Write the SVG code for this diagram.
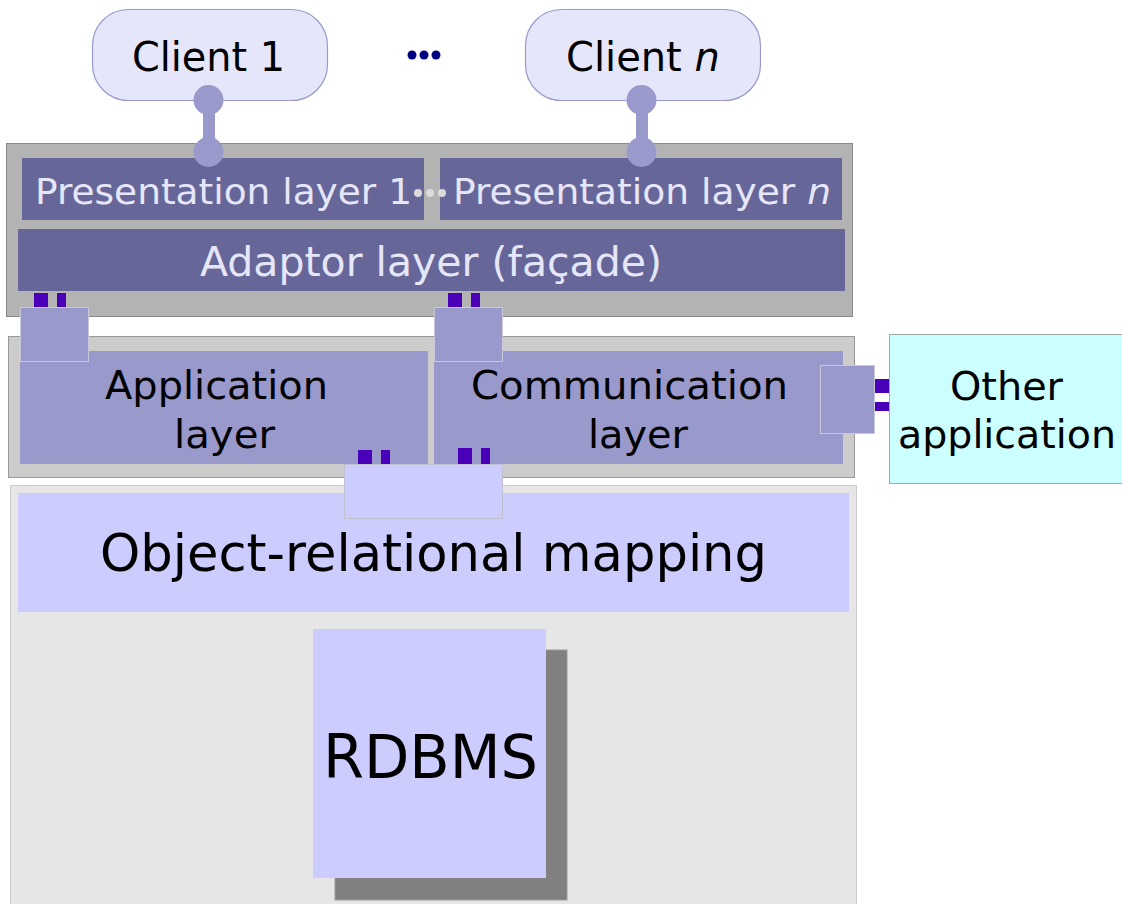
<svg xmlns="http://www.w3.org/2000/svg" width="1122" height="904" viewBox="0 0 1122 904">
  <style>
    text { font-family: "DejaVu Sans", Verdana, sans-serif; }
    .client { fill: #e6e6fa; stroke: #9999cc; stroke-width: 1.2; }
    .light { fill: #e6e6fa; }
    .dark { fill: #000000; }
    .pres { fill: #666699; }
    .mid { fill: #9999cc; }
    .port { fill: #4a00b8; }
    .pbox { fill: #9999cc; stroke: #c8c8d8; stroke-width: 1; }
    .pbox2 { fill: #ccccff; stroke: #c0c0d0; stroke-width: 1; }
    .link { fill: #9999cc; }
  </style>

  <!-- tier containers -->
  <rect id="web-tier" x="6.5" y="143.5" width="846" height="173" fill="#b3b3b3" stroke="#8a8a8a" stroke-width="1"/>
  <rect id="app-tier" x="8.5" y="336.5" width="846" height="141" fill="#cccccc" stroke="#999999" stroke-width="1"/>
  <rect id="data-tier" x="10.5" y="485.5" width="846" height="430" fill="#e6e6e6" stroke="#cccccc" stroke-width="1"/>

  <!-- clients -->
  <g id="client-1">
    <rect class="client" x="92.5" y="9.5" width="235" height="91" rx="36" ry="36"/>
    <text x="132" y="71" font-size="40" class="dark" textLength="153" lengthAdjust="spacingAndGlyphs">Client 1</text>
  </g>
  <g id="client-n">
    <rect class="client" x="525.5" y="9.5" width="235" height="91" rx="36" ry="36"/>
    <text x="566" y="71" font-size="40" class="dark">Client <tspan font-style="italic">n</tspan></text>
  </g>
  <g id="client-ellipsis" fill="#000080">
    <circle cx="412" cy="55" r="4.5"/>
    <circle cx="424" cy="55" r="4.5"/>
    <circle cx="436" cy="55" r="4.5"/>
  </g>

  <!-- presentation layers -->
  <g id="presentation-1">
    <rect class="pres" x="22" y="158" width="402" height="62"/>
    <text x="35" y="204" font-size="36" class="light" textLength="377" lengthAdjust="spacingAndGlyphs">Presentation layer 1</text>
  </g>
  <g id="presentation-n">
    <rect class="pres" x="440" y="158" width="402" height="62"/>
    <text x="453" y="204" font-size="36" class="light" textLength="378" lengthAdjust="spacingAndGlyphs">Presentation layer <tspan font-style="italic">n</tspan></text>
  </g>
  <g id="presentation-ellipsis" fill="#dcdcdc">
    <circle cx="418" cy="193" r="4"/>
    <circle cx="430" cy="193" r="4"/>
    <circle cx="442" cy="193" r="4"/>
  </g>

  <!-- adaptor layer -->
  <g id="adaptor">
    <rect class="pres" x="18" y="229" width="827" height="62"/>
    <text x="200" y="276" font-size="40" class="light" textLength="462" lengthAdjust="spacingAndGlyphs">Adaptor layer (façade)</text>
  </g>

  <!-- application tier -->
  <g id="application">
    <rect class="mid" x="20" y="351" width="408" height="113"/>
    <text x="105" y="399" font-size="39" class="dark" textLength="223" lengthAdjust="spacingAndGlyphs">Application</text>
    <text x="174" y="448" font-size="39" class="dark" textLength="101" lengthAdjust="spacingAndGlyphs">layer</text>
  </g>
  <g id="communication">
    <rect class="mid" x="434" y="351" width="409" height="113"/>
    <text x="471" y="399" font-size="39" class="dark" textLength="317" lengthAdjust="spacingAndGlyphs">Communication</text>
    <text x="588" y="448" font-size="39" class="dark" textLength="100" lengthAdjust="spacingAndGlyphs">layer</text>
  </g>
  <g id="other-application">
    <rect x="889.5" y="334.5" width="240" height="149" fill="#ccffff" stroke="#9aaaaa" stroke-width="1"/>
    <text x="950" y="400" font-size="39" class="dark" textLength="113" lengthAdjust="spacingAndGlyphs">Other</text>
    <text x="898" y="448" font-size="39" class="dark" textLength="218" lengthAdjust="spacingAndGlyphs">application</text>
  </g>

  <!-- data tier -->
  <g id="orm">
    <rect x="18" y="493" width="831" height="119" fill="#ccccff"/>
    <text x="100" y="571" font-size="52" class="dark" textLength="667" lengthAdjust="spacingAndGlyphs">Object-relational mapping</text>
  </g>
  <g id="rdbms">
    <rect x="335" y="650" width="232" height="250" fill="#808080" stroke="#9a9a9a" stroke-width="1"/>
    <rect x="313" y="629" width="233" height="249" fill="#ccccff"/>
    <text x="323" y="778" font-size="60" class="dark" textLength="215" lengthAdjust="spacingAndGlyphs">RDBMS</text>
  </g>

  <!-- connectors: client links, ports and port boxes -->
  <g id="connectors">
    <g id="client-links" class="link">
      <rect x="203" y="100" width="12" height="52"/>
      <circle cx="208.5" cy="100" r="15"/>
      <circle cx="208.5" cy="152" r="15"/>
      <rect x="636" y="100" width="12" height="52"/>
      <circle cx="641.5" cy="100" r="15"/>
      <circle cx="641.5" cy="152" r="15"/>
    </g>

    <g id="adaptor-to-application">
      <rect class="port" x="34" y="293" width="14" height="14"/>
      <rect class="port" x="57" y="293" width="9" height="14"/>
      <rect class="pbox" x="20.5" y="307.5" width="68" height="54"/>
    </g>
    <g id="adaptor-to-communication">
      <rect class="port" x="448" y="293" width="14" height="14"/>
      <rect class="port" x="471" y="293" width="9" height="14"/>
      <rect class="pbox" x="434.5" y="307.5" width="68" height="54"/>
    </g>
    <g id="communication-to-other">
      <rect class="pbox" x="820.5" y="365.5" width="54" height="68"/>
      <rect class="port" x="875" y="379" width="14" height="14"/>
      <rect class="port" x="875" y="402" width="14" height="9"/>
    </g>
    <g id="application-to-orm">
      <rect class="port" x="358" y="450" width="14" height="14"/>
      <rect class="port" x="381" y="450" width="9" height="14"/>
      <rect class="port" x="458" y="448" width="14" height="16"/>
      <rect class="port" x="481" y="448" width="9" height="16"/>
      <rect class="pbox2" x="344.5" y="464.5" width="158" height="54"/>
    </g>
  </g>
</svg>
